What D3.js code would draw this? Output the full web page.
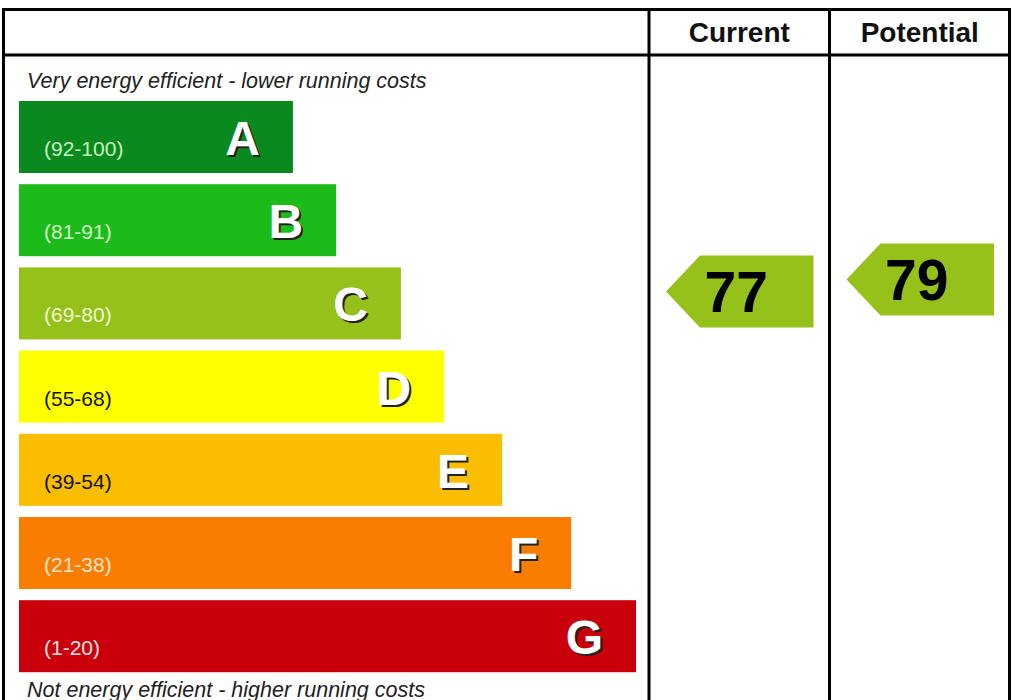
<!DOCTYPE html>
<html>
<head>
<meta charset="utf-8">
<script src="https://cdn.jsdelivr.net/npm/d3@7"></script>
<style>
  body { margin: 0; background: #fff; }
  text { font-family: "Liberation Sans", Arial, sans-serif; }
</style>
</head>
<body>
<div id="chart"></div>
<script>
// bands, top (most efficient) to bottom
const bands = ["A", "B", "C", "D", "E", "F", "G"];
const ranges = ["(92-100)", "(81-91)", "(69-80)", "(55-68)", "(39-54)", "(21-38)", "(1-20)"];
const lows = [92, 81, 69, 55, 39, 21, 1];
const highs = [100, 91, 80, 68, 54, 38, 20];
const barLength = [44.4, 51.4, 61.9, 68.9, 78.3, 89.5, 100]; // relative, G = 100
const colors = ["#0a8a1e", "#1cbb1a", "#95c11a", "#ffff00", "#fbbd00", "#f97d00", "#c9000b"];
const rangeColors = ["#c4f5bd", "#d2f7c8", "#ecfbd0", "#111", "#111", "#fde5cc", "#fbe0e0"];

const columns = ["Current", "Potential"];
const ratings = [77, 79];

const W = 1012, H = 700;

const svg = d3.select("#chart").append("svg")
    .attr("width", W)
    .attr("height", H);

// band layout
const y = d3.scaleBand()
    .domain(bands)
    .range([101, 672.2])
    .paddingInner(0.1346)
    .paddingOuter(0);

const x = d3.scaleLinear()
    .domain([0, 100])
    .range([19, 636]);

const colX = d3.scaleBand()
    .domain(columns)
    .range([649, 1010]);

// value -> vertical position of the arrow centre inside its band
function ratingY(v) {
    const i = bands.findIndex((b, k) => v >= lows[k] && v <= highs[k]);
    const s = d3.scaleLinear()
        .domain([highs[i] + 1, lows[i]])
        .range([y(bands[i]), y(bands[i]) + y.bandwidth()]);
    return s(v);
}

// bars
const g = svg.append("g")
    .selectAll("g")
    .data(bands)
    .join("g");

g.append("rect")
    .attr("x", x(0))
    .attr("y", d => y(d))
    .attr("width", (d, i) => x(barLength[i]) - x(0))
    .attr("height", y.bandwidth())
    .attr("fill", (d, i) => colors[i]);

g.append("text")
    .attr("x", 44)
    .attr("y", d => y(d) + 55)
    .attr("font-size", "21px")
    .attr("fill", (d, i) => rangeColors[i])
    .text((d, i) => ranges[i]);

// letter with dark drop shadow
g.append("text")
    .attr("x", (d, i) => x(barLength[i]) - 31)
    .attr("y", d => y(d) + 56)
    .attr("text-anchor", "end")
    .attr("font-size", "48px")
    .attr("font-weight", "bold")
    .attr("fill", "#222")
    .text(d => d);

g.append("text")
    .attr("x", (d, i) => x(barLength[i]) - 33)
    .attr("y", d => y(d) + 54)
    .attr("text-anchor", "end")
    .attr("font-size", "48px")
    .attr("font-weight", "bold")
    .attr("fill", "#fff")
    .text(d => d);

// captions
svg.append("text")
    .attr("x", 27)
    .attr("y", 88)
    .attr("font-size", "21.5px")
    .attr("font-style", "italic")
    .attr("fill", "#222")
    .text("Very energy efficient - lower running costs");

svg.append("text")
    .attr("x", 27)
    .attr("y", 697)
    .attr("font-size", "21.5px")
    .attr("font-style", "italic")
    .attr("fill", "#222")
    .text("Not energy efficient - higher running costs");

// rating arrows
const bw = colX.bandwidth();
const arrowH = y.bandwidth();
const arrow = svg.append("g")
    .selectAll("g")
    .data(columns)
    .join("g")
    .attr("transform", (d, i) => `translate(${colX(d)},${ratingY(ratings[i])})`);

arrow.append("path")
    .attr("d", () => {
        const l = 17, t = 51, r = bw - 16, h = arrowH / 2;
        return `M${l},0 L${t},${-h} L${r},${-h} L${r},${h} L${t},${h} Z`;
    })
    .attr("fill", colors[2]);

arrow.append("text")
    .attr("x", bw / 2 - 3)
    .attr("y", 21)
    .attr("text-anchor", "middle")
    .attr("font-size", "57px")
    .attr("font-weight", "bold")
    .attr("fill", "#000")
    .text((d, i) => ratings[i]);

// grid lines
const lines = svg.append("g")
    .attr("stroke", "#000")
    .attr("stroke-width", 3)
    .attr("fill", "none");

lines.append("rect")
    .attr("x", 3.5)
    .attr("y", 9.5)
    .attr("width", 1006)
    .attr("height", 700);

lines.append("line")
    .attr("x1", 3.5).attr("x2", 1009.5)
    .attr("y1", 55).attr("y2", 55);

columns.forEach(c => {
    lines.append("line")
        .attr("x1", colX(c)).attr("x2", colX(c))
        .attr("y1", 9.5).attr("y2", H);
});

// header
svg.append("g")
    .selectAll("text")
    .data(columns)
    .join("text")
    .attr("x", d => colX(d) + bw / 2)
    .attr("y", 42)
    .attr("text-anchor", "middle")
    .attr("font-size", "28px")
    .attr("font-weight", "bold")
    .attr("fill", "#111")
    .text(d => d);
</script>
</body>
</html>
